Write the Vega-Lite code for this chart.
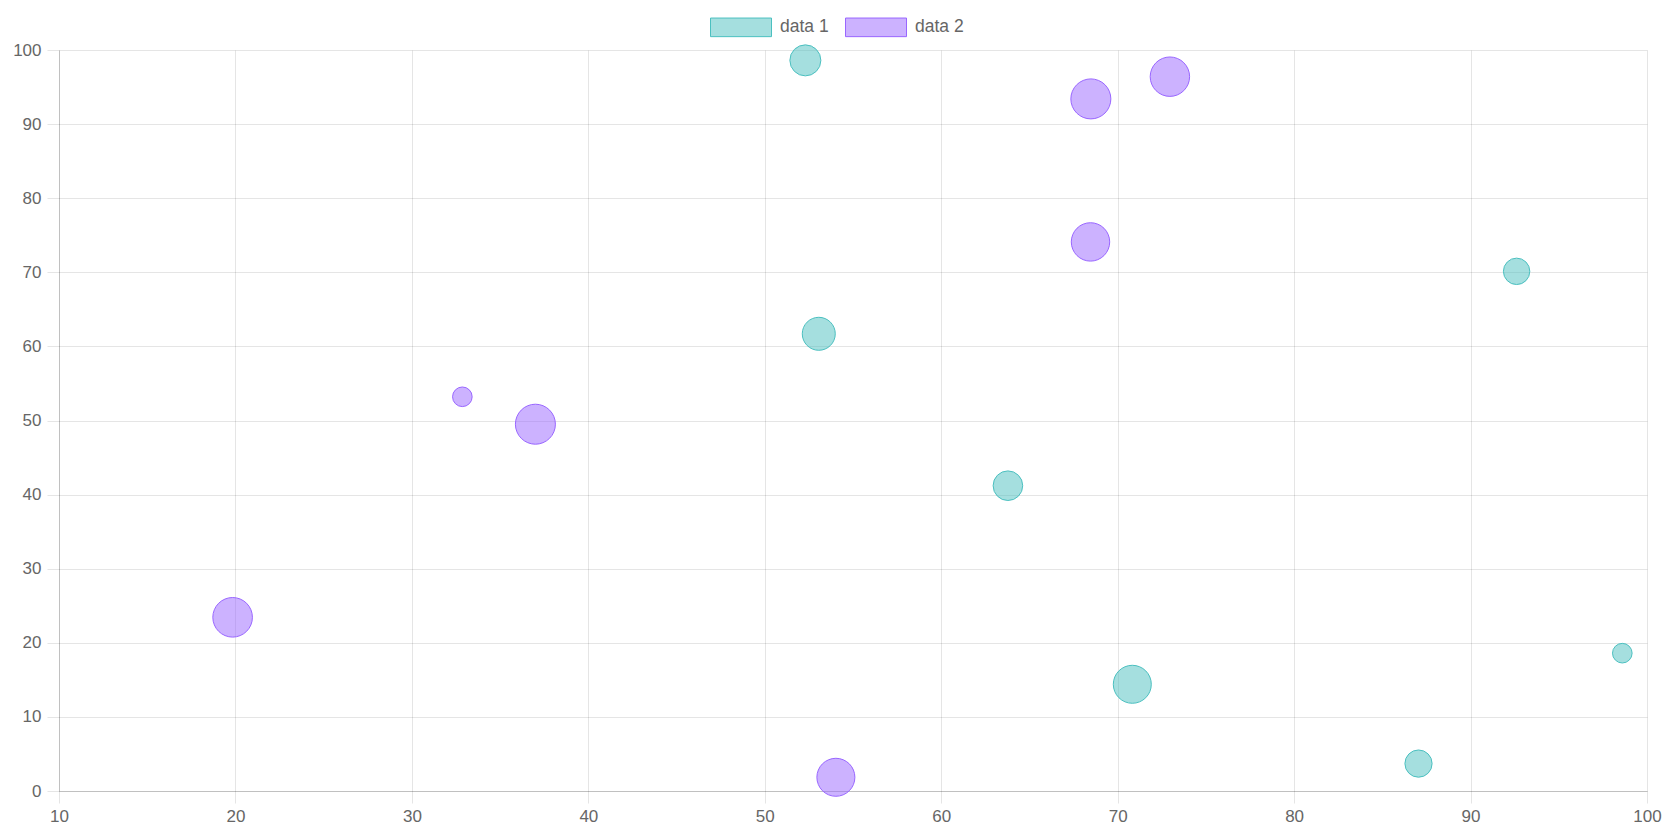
{
  "$schema": "https://vega.github.io/schema/vega-lite/v6.json",
  "autosize": {"type": "none"},
  "width": 1588,
  "height": 741,
  "padding": {"left": 59, "top": 50, "right": 25, "bottom": 43},
  "background": "white",
  "data": {
    "values": [
      {"series": "data 1", "x": 52.3, "y": 98.6, "r": 15.5},
      {"series": "data 1", "x": 53.06, "y": 61.7, "r": 16.5},
      {"series": "data 1", "x": 63.78, "y": 41.2, "r": 14.8},
      {"series": "data 1", "x": 70.83, "y": 14.4, "r": 19},
      {"series": "data 1", "x": 87.05, "y": 3.7, "r": 13.6},
      {"series": "data 1", "x": 92.61, "y": 70.13, "r": 13.2},
      {"series": "data 1", "x": 98.6, "y": 18.6, "r": 9.8},
      {"series": "data 2", "x": 19.84, "y": 23.44, "r": 19.8},
      {"series": "data 2", "x": 32.86, "y": 53.2, "r": 9.8},
      {"series": "data 2", "x": 37.0, "y": 49.5, "r": 20},
      {"series": "data 2", "x": 54.03, "y": 1.85, "r": 19},
      {"series": "data 2", "x": 68.46, "y": 74.1, "r": 19.2},
      {"series": "data 2", "x": 68.48, "y": 93.4, "r": 20},
      {"series": "data 2", "x": 72.96, "y": 96.4, "r": 19.7}
    ]
  },
  "mark": {"type": "circle", "strokeWidth": 1, "opacity": 1},
  "encoding": {
    "x": {
      "field": "x", "type": "quantitative",
      "scale": {"domain": [10, 100], "nice": false, "zero": false},
      "axis": {"values": [10, 20, 30, 40, 50, 60, 70, 80, 90, 100], "title": null, "labelFlush": false, "labelOverlap": false, "labelBound": false}
    },
    "y": {
      "field": "y", "type": "quantitative",
      "scale": {"domain": [0, 100], "nice": false},
      "axis": {"values": [0, 10, 20, 30, 40, 50, 60, 70, 80, 90, 100], "title": null, "labelFlush": false, "labelOverlap": false}
    },
    "size": {
      "field": "r", "type": "quantitative",
      "scale": {"type": "pow", "exponent": 2, "domain": [0, 20], "range": [0, 1600]},
      "legend": null
    },
    "fill": {
      "field": "series", "type": "nominal",
      "scale": {"domain": ["data 1", "data 2"], "range": ["rgba(75,192,192,0.5)", "rgba(153,102,255,0.5)"]},
      "legend": {
        "title": null,
        "orient": "none",
        "direction": "horizontal",
        "legendX": 651,
        "legendY": -54,
        "padding": 0,
        "symbolType": "M-1,-0.305H1V0.305H-1Z",
        "symbolSize": 3721,
        "symbolStrokeWidth": 1,
        "labelOffset": 8,
        "columnPadding": 14,
        "labelFontSize": 17.5,
        "labelFont": "Liberation Sans",
        "labelColor": "#666666"
      }
    },
    "stroke": {
      "field": "series", "type": "nominal",
      "scale": {"domain": ["data 1", "data 2"], "range": ["rgb(75,192,192)", "rgb(153,102,255)"]},
      "legend": {
        "title": null,
        "orient": "none",
        "direction": "horizontal",
        "legendX": 651,
        "legendY": -54,
        "padding": 0,
        "symbolType": "M-1,-0.305H1V0.305H-1Z",
        "symbolSize": 3721,
        "symbolStrokeWidth": 1,
        "labelOffset": 8,
        "columnPadding": 14,
        "labelFontSize": 17.5,
        "labelFont": "Liberation Sans",
        "labelColor": "#666666"
      }
    }
  },
  "config": {
    "view": {"stroke": null},
    "axis": {
      "labelFont": "Liberation Sans",
      "labelFontSize": 17,
      "labelColor": "#666666",
      "gridColor": "rgba(0,0,0,0.1)",
      "gridWidth": 1,
      "tickColor": "rgba(0,0,0,0.1)",
      "tickSize": 12,
      "domainColor": "rgba(0,0,0,0.16)",
      "labelPadding": 5
    },
    "axisY": {"labelPadding": 6}
  }
}
